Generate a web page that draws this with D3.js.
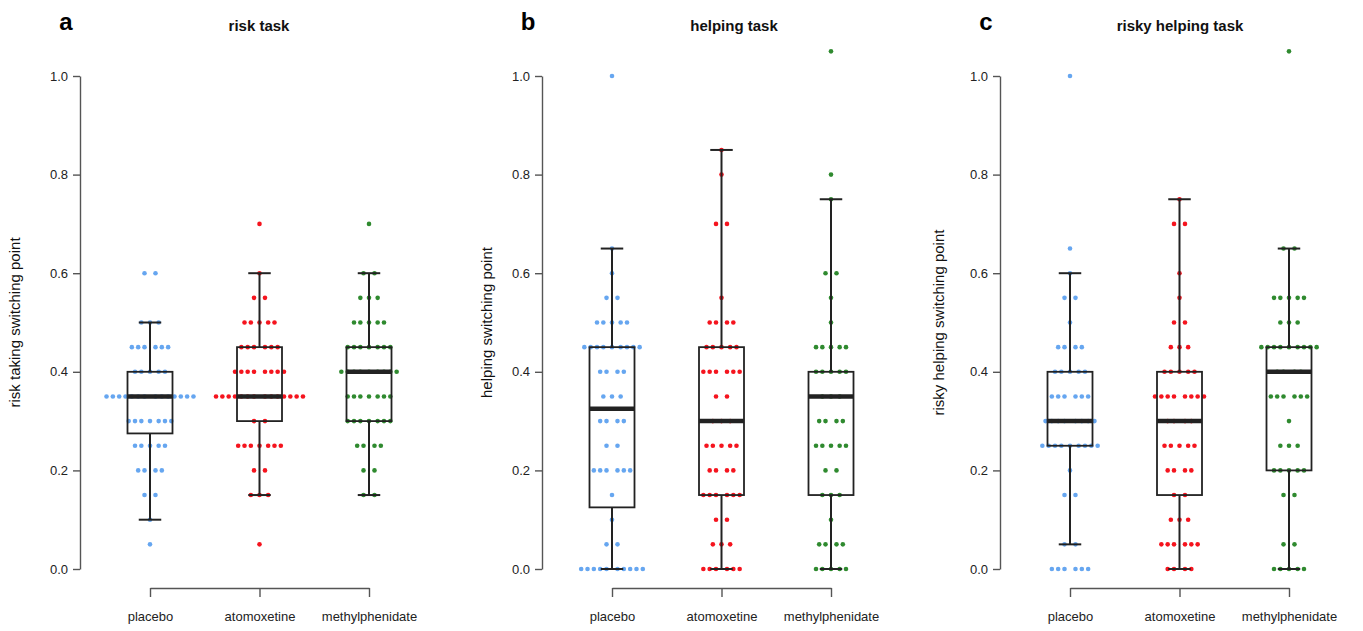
<!DOCTYPE html>
<html>
<head>
<meta charset="utf-8">
<script src="https://cdn.jsdelivr.net/npm/d3@7"></script>
<style>
  body { margin: 0; background: #fff; }
  svg { display: block; font-family: "Liberation Sans", Arial, sans-serif; }
  .axis path, .axis line { stroke: #555; stroke-width: 1.4; }
  .axis text { fill: #222; font-size: 13px; }
  .box line, .box rect { stroke: #222; fill: none; }
</style>
</head>
<body>
<div id="chart"></div>
<script>
// groups shared by all three panels
const groups = ['placebo', 'atomoxetine', 'methylphenidate'];
const groupColors = ['#66a6f0', '#f5141e', '#2f8a2f'];
const yTicks = [0, 0.2, 0.4, 0.6, 0.8, 1.0];

const panelLetters = ['a', 'b', 'c'];
const panelTitles = ['risk task', 'helping task', 'risky helping task'];
const panelYLabels = ['risk taking switching point', 'helping switching point', 'risky helping switching point'];

// switching points per group: [value, number of participants]
const riskPlacebo = [[0.60, 2], [0.50, 3], [0.45, 6], [0.40, 5], [0.35, 14], [0.30, 7], [0.25, 5], [0.20, 4], [0.15, 2], [0.10, 1], [0.05, 1]];
const riskAtomoxetine = [[0.70, 1], [0.60, 1], [0.55, 2], [0.50, 5], [0.45, 6], [0.40, 8], [0.35, 14], [0.30, 2], [0.25, 7], [0.20, 2], [0.15, 3], [0.05, 1]];
const riskMethylphenidate = [[0.70, 1], [0.60, 2], [0.55, 3], [0.50, 5], [0.45, 7], [0.40, 9], [0.35, 7], [0.30, 7], [0.25, 4], [0.20, 2], [0.15, 2]];

const helpPlacebo = [[1.00, 1], [0.65, 1], [0.60, 1], [0.55, 2], [0.50, 5], [0.45, 9], [0.40, 4], [0.35, 3], [0.30, 4], [0.25, 2], [0.20, 6], [0.15, 1], [0.10, 1], [0.05, 2], [0.00, 10]];
const helpAtomoxetine = [[0.85, 1], [0.80, 1], [0.70, 2], [0.55, 1], [0.50, 4], [0.45, 5], [0.40, 6], [0.35, 2], [0.30, 3], [0.25, 5], [0.20, 4], [0.15, 6], [0.10, 2], [0.05, 3], [0.00, 6]];
const helpMethylphenidate = [[1.05, 1], [0.80, 1], [0.75, 1], [0.60, 2], [0.55, 1], [0.50, 1], [0.45, 5], [0.40, 5], [0.35, 3], [0.30, 4], [0.25, 5], [0.20, 2], [0.15, 3], [0.10, 1], [0.05, 4], [0.00, 5]];

const riskyHelpPlacebo = [[1.00, 1], [0.65, 1], [0.60, 1], [0.55, 2], [0.50, 1], [0.45, 4], [0.40, 5], [0.35, 6], [0.30, 8], [0.25, 9], [0.20, 1], [0.15, 2], [0.05, 2], [0.00, 6]];
const riskyHelpAtomoxetine = [[0.75, 1], [0.70, 2], [0.60, 1], [0.55, 1], [0.50, 2], [0.45, 3], [0.40, 5], [0.35, 8], [0.30, 4], [0.25, 5], [0.20, 4], [0.15, 2], [0.10, 3], [0.05, 6], [0.00, 4]];
const riskyHelpMethylphenidate = [[1.05, 1], [0.65, 2], [0.55, 5], [0.50, 3], [0.45, 9], [0.40, 4], [0.35, 6], [0.30, 1], [0.25, 3], [0.20, 5], [0.15, 2], [0.05, 2], [0.00, 5]];

// box statistics: [lower whisker, Q1, median, Q3, upper whisker]
const riskBoxes = [[0.10, 0.275, 0.35, 0.40, 0.50], [0.15, 0.30, 0.35, 0.45, 0.60], [0.15, 0.30, 0.40, 0.45, 0.60]];
const helpBoxes = [[0.00, 0.125, 0.325, 0.45, 0.65], [0.00, 0.15, 0.30, 0.45, 0.85], [0.00, 0.15, 0.35, 0.40, 0.75]];
const riskyHelpBoxes = [[0.05, 0.25, 0.30, 0.40, 0.60], [0.00, 0.15, 0.30, 0.40, 0.75], [0.00, 0.20, 0.40, 0.45, 0.65]];

const panelPoints = [
    [riskPlacebo, riskAtomoxetine, riskMethylphenidate],
    [helpPlacebo, helpAtomoxetine, helpMethylphenidate],
    [riskyHelpPlacebo, riskyHelpAtomoxetine, riskyHelpMethylphenidate]
];
const panelBoxes = [riskBoxes, helpBoxes, riskyHelpBoxes];

// layout
const W = 1363, H = 631;
const axisXs = [80, 542, 1000];
const yLabelXs = [20, 492, 944];
const titleXs = [259, 734, 1180];
const plotTop = 76, plotBottom = 569, xAxisY = 588;
const firstGroupGap = 70, groupStep = 109.5;
const boxWidth = 45, dotStep = 6.33, dotPush = 2.33, dotR = 2.3;

const svg = d3.select('#chart').append('svg')
    .attr('width', W)
    .attr('height', H);

const y = d3.scaleLinear().domain([0, 1]).range([plotBottom, plotTop]);

// offsets of n dots in one row, centred on the group
function rowOffsets(n) {
    return d3.range(n).map(i => {
        const o = (i - (n - 1) / 2) * dotStep;
        return o === 0 ? 0 : o + Math.sign(o) * dotPush;
    });
}

panelTitles.forEach((title, p) => {
    const ax = axisXs[p];
    const x = d3.scalePoint()
        .domain(groups)
        .range([ax + firstGroupGap, ax + firstGroupGap + groupStep * (groups.length - 1)]);
    const g = svg.append('g');

    // letter and title
    g.append('text')
        .attr('x', ax - 14).attr('y', 30)
        .attr('text-anchor', 'middle')
        .style('font-size', '24px').style('font-weight', 'bold')
        .text(panelLetters[p]);
    g.append('text')
        .attr('x', titleXs[p]).attr('y', 31)
        .attr('text-anchor', 'middle')
        .style('font-size', '15px').style('font-weight', 'bold').style('fill', '#111')
        .text(title);

    // y axis
    g.append('g')
        .attr('class', 'axis')
        .attr('transform', `translate(${ax},0)`)
        .call(d3.axisLeft(y).tickValues(yTicks).tickFormat(d3.format('.1f')).tickSize(7).tickSizeOuter(0).tickPadding(5));

    g.append('text')
        .attr('transform', `translate(${yLabelXs[p]},${(plotTop + plotBottom) / 2}) rotate(-90)`)
        .attr('text-anchor', 'middle')
        .style('font-size', '15px').style('fill', '#111')
        .text(panelYLabels[p]);

    // x axis
    g.append('g')
        .attr('class', 'axis')
        .attr('transform', `translate(0,${xAxisY})`)
        .call(d3.axisBottom(x).tickSize(9).tickSizeOuter(0).tickPadding(15));

    // dots
    groups.forEach((grp, k) => {
        const pts = [];
        panelPoints[p][k].forEach(([v, n]) => {
            rowOffsets(n).forEach(o => pts.push({ v: v, dx: o }));
        });
        g.append('g').selectAll('circle')
            .data(pts)
            .enter().append('circle')
            .attr('cx', d => x(grp) + d.dx)
            .attr('cy', d => y(d.v))
            .attr('r', dotR)
            .attr('fill', groupColors[k]);
    });

    // boxes on top of the dots
    groups.forEach((grp, k) => {
        const [lo, q1, med, q3, hi] = panelBoxes[p][k];
        const cx = x(grp);
        const b = g.append('g').attr('class', 'box');
        b.append('line')
            .attr('x1', cx).attr('x2', cx)
            .attr('y1', y(q1)).attr('y2', y(lo))
            .attr('stroke-width', 2);
        b.append('line')
            .attr('x1', cx).attr('x2', cx)
            .attr('y1', y(q3)).attr('y2', y(hi))
            .attr('stroke-width', 2);
        [lo, hi].forEach(v => {
            b.append('line')
                .attr('x1', cx - boxWidth / 4).attr('x2', cx + boxWidth / 4)
                .attr('y1', y(v)).attr('y2', y(v))
                .attr('stroke-width', 2);
        });
        b.append('rect')
            .attr('x', cx - boxWidth / 2).attr('width', boxWidth)
            .attr('y', y(q3)).attr('height', y(q1) - y(q3))
            .attr('stroke-width', 1.8);
        b.append('line')
            .attr('x1', cx - boxWidth / 2).attr('x2', cx + boxWidth / 2)
            .attr('y1', y(med)).attr('y2', y(med))
            .attr('stroke', '#000')
            .attr('stroke-width', 4.5);
    });
});
</script>
</body>
</html>
